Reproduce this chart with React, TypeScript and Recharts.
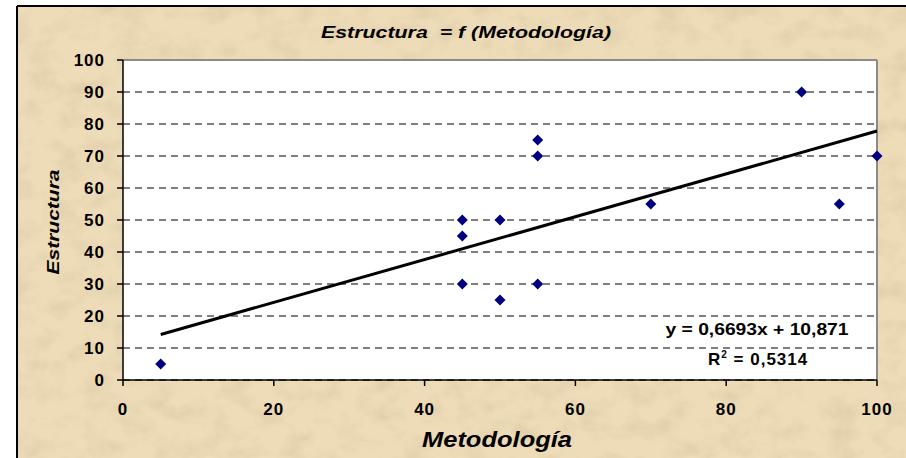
import { ScatterChart, Scatter, XAxis, YAxis, CartesianGrid, ReferenceLine } from 'recharts';

// Observed pairs (Metodología, Estructura)
const metodologia = [5, 45, 45, 45, 50, 50, 55, 55, 55, 70, 90, 95, 100];
const estructura = [5, 50, 45, 30, 50, 25, 75, 70, 30, 55, 90, 55, 70];

// Linear trendline shown in the chart
const slope = 0.6693;
const intercept = 10.871;
const trendRange = [5, 100];

const xTicks = [0, 20, 40, 60, 80, 100];
const yTicks = [0, 10, 20, 30, 40, 50, 60, 70, 80, 90, 100];

const FONT = '"Liberation Sans", Arial, sans-serif';

const points = metodologia.map((x, i) => ({ x, y: estructura[i] }));

const Diamond = (props: any) => {
  const { cx, cy } = props;
  const r = 5.5;
  return (
    <polygon
      points={`${cx},${cy - r} ${cx + r},${cy} ${cx},${cy + r} ${cx - r},${cy}`}
      fill="#000080"
    />
  );
};

const tickStyle = { fontSize: 17, fontWeight: 700, fill: '#000', fontFamily: FONT, letterSpacing: 1 };

export default function App() {
  const seg = trendRange.map((x) => ({ x, y: slope * x + intercept }));

  return (
    <div style={{ position: 'relative', width: 906, height: 458, overflow: 'hidden', background: '#fff' }}>
      <style>{`body{margin:0}`}</style>
      {/* parchment panel */}
      <svg width={906} height={458} style={{ position: 'absolute', left: 0, top: 0 }}>
        <defs>
          <filter id="paper" x="0" y="0" width="100%" height="100%">
            <feTurbulence type="fractalNoise" baseFrequency="0.035 0.05" numOctaves={4} seed={7} />
            <feColorMatrix
              type="matrix"
              values="0 0 0 0 0.55  0 0 0 0 0.42  0 0 0 0 0.25  0 0 0 -1.4 0.8"
            />
          </filter>
        </defs>
        <rect x={17} y={6} width={900} height={460} fill="#eedcb8" />
        <rect x={17} y={6} width={900} height={460} filter="url(#paper)" opacity={0.45} />
        <line x1={17} y1={6} x2={906} y2={6} stroke="#000" strokeWidth={2} />
        <line x1={17} y1={6} x2={17} y2={458} stroke="#000" strokeWidth={2} />
      </svg>

      <div style={{ position: 'absolute', left: 0, top: 0 }}>
        <ScatterChart width={906} height={458} margin={{ top: 60, right: 29, bottom: 48, left: 73 }}>
          <CartesianGrid
            horizontal
            vertical={false}
            fill="#fff"
            stroke="#000"
            strokeDasharray="7 5"
            horizontalValues={yTicks}
          />
          <XAxis
            type="number"
            dataKey="x"
            domain={[0, 100]}
            ticks={xTicks}
            height={30}
            tick={tickStyle}
            tickSize={6}
            tickMargin={17}
            axisLine={{ stroke: '#000', strokeWidth: 1.5 }}
            tickLine={{ stroke: '#000', strokeWidth: 1.5 }}
          />
          <YAxis
            type="number"
            dataKey="y"
            domain={[0, 100]}
            ticks={yTicks}
            width={50}
            tick={tickStyle}
            tickSize={6}
            tickMargin={12}
            axisLine={{ stroke: '#000', strokeWidth: 1.5 }}
            tickLine={{ stroke: '#000', strokeWidth: 1.5 }}
          />
          <ReferenceLine y={100} stroke="#8a8a8a" strokeWidth={2} />
          <ReferenceLine x={100} stroke="#8a8a8a" strokeWidth={2} />
          <ReferenceLine
            segment={seg}
            stroke="#000"
            strokeWidth={3}
            ifOverflow="visible"
          />
          <Scatter data={points} shape={Diamond} isAnimationActive={false} />
        </ScatterChart>
      </div>

      {/* titles and trendline equation */}
      <svg width={906} height={458} style={{ position: 'absolute', left: 0, top: 0, pointerEvents: 'none' }}>
        <text
          x={466}
          y={38}
          textAnchor="middle"
          fontFamily={FONT}
          fontSize={17}
          fontWeight={700}
          fontStyle="italic"
          textLength={290}
          lengthAdjust="spacingAndGlyphs"
        >
          {'Estructura \u00a0= f (Metodología)'}
        </text>
        <text
          x={53}
          y={222}
          transform="rotate(-90 53 222)"
          textAnchor="middle"
          dominantBaseline="central"
          fontFamily={FONT}
          fontSize={17}
          fontWeight={700}
          fontStyle="italic"
          textLength={105}
          lengthAdjust="spacingAndGlyphs"
        >
          Estructura
        </text>
        <text
          x={497}
          y={447}
          textAnchor="middle"
          fontFamily={FONT}
          fontSize={22}
          fontWeight={700}
          fontStyle="italic"
          textLength={150}
          lengthAdjust="spacingAndGlyphs"
        >
          Metodología
        </text>
        <text
          x={757}
          y={335}
          textAnchor="middle"
          fontFamily={FONT}
          fontSize={16}
          fontWeight={700}
          textLength={183}
          lengthAdjust="spacingAndGlyphs"
        >
          y = 0,6693x + 10,871
        </text>
        <text x={708} y={365} fontFamily={FONT} fontSize={17} fontWeight={700} letterSpacing={1}>
          <tspan>R</tspan>
          <tspan dy={-7} fontSize={10}>2</tspan>
          <tspan dy={7}>{' = 0,5314'}</tspan>
        </text>
      </svg>
    </div>
  );
}
